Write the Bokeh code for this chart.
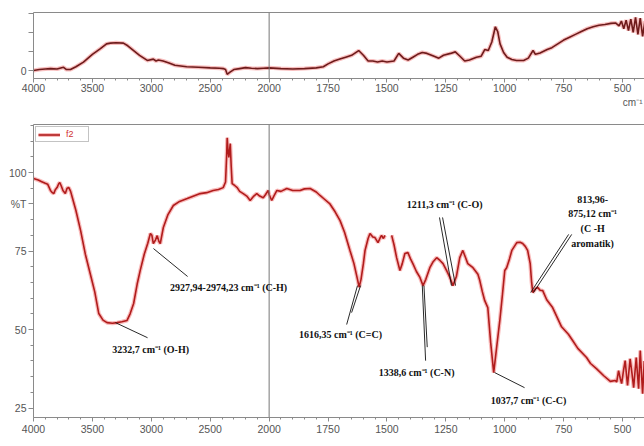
import numpy as np
from bokeh.plotting import figure
from bokeh.models import (Range1d, FixedTicker, LinearAxis, Span, Label,
                          Legend, LegendItem, Title)
from bokeh.layouts import column
from bokeh.embed import file_html
from bokeh.resources import INLINE

# ---------------- data (wavenumber cm-1, signal) ----------------
top_wn = [4000, 3950, 3900, 3856, 3800, 3745, 3720, 3686, 3640, 3576, 3500, 3432,
          3380, 3347, 3300, 3237, 3200, 3150, 3100, 3034, 2983, 2960, 2940, 2900,
          2850, 2800, 2700, 2600, 2500, 2420, 2390, 2370, 2356, 2335, 2300, 2250,
          2200, 2150, 2100, 2050, 2000, 1950, 1900, 1850, 1800, 1770, 1750, 1725,
          1700, 1675, 1650, 1620, 1600, 1580, 1560, 1540, 1520, 1500, 1470, 1450,
          1430, 1410, 1390, 1370, 1350, 1330, 1300, 1280, 1260, 1230, 1210, 1190,
          1170, 1150, 1120, 1100, 1085, 1070, 1055, 1040, 1030, 1020, 1005, 990,
          970, 950, 920, 900, 880, 870, 850, 820, 800, 775, 750, 725, 700, 675,
          650, 625, 600, 575, 550, 530, 515, 505, 495, 485, 475, 465, 455, 445,
          435, 425, 415, 405]
top_val = [0.0, 0.05, 0.08, 0.1, 0.08, 0.17, 0.05, 0.05, 0.2, 0.44, 0.85, 1.15,
           1.4, 1.44, 1.46, 1.44, 1.3, 1.05, 0.8, 0.53, 0.6, 0.5, 0.55, 0.5,
           0.4, 0.28, 0.2, 0.17, 0.14, 0.12, 0.1, 0.05, -0.2, -0.1, 0.05, 0.1,
           0.15, 0.12, 0.1, 0.12, 0.14, 0.1, 0.08, 0.1, 0.14, 0.2, 0.35, 0.5,
           0.6, 0.7, 0.8, 1.05, 0.8, 0.5, 0.5, 0.45, 0.5, 0.45, 0.5, 0.9,
           0.65, 0.55, 0.7, 0.85, 0.95, 0.9, 0.75, 0.65, 0.8, 0.9, 0.98, 0.75,
           0.5, 0.55, 0.7, 0.75, 1.1, 1.05, 1.5, 2.3, 2.05, 1.4, 0.95, 0.7,
           0.58, 0.53, 0.53, 0.65, 1.05, 0.85, 0.92, 1.1, 1.2, 1.4, 1.6, 1.75,
           1.9, 2.05, 2.2, 2.3, 2.38, 2.42, 2.48, 2.5, 2.35, 2.6, 2.2, 2.65,
           2.1, 2.7, 2.0, 2.8, 1.9, 2.75, 1.8, 2.6]

main_wn = [4000, 3960, 3930, 3900, 3880, 3856, 3840, 3828, 3815, 3800, 3785, 3777,
           3765, 3750, 3730, 3715, 3700, 3685, 3670, 3640, 3600, 3560, 3520, 3480,
           3446, 3410, 3376, 3330, 3291, 3250, 3206, 3180, 3150, 3120, 3093, 3060,
           3030, 3008, 2995, 2983, 2965, 2950, 2935, 2924, 2898, 2860, 2813, 2760,
           2695, 2640, 2585, 2530, 2475, 2430, 2390, 2370, 2360, 2356, 2349, 2342,
           2336, 2330, 2322, 2314, 2290, 2271, 2250, 2220, 2190, 2161, 2130, 2105,
           2080, 2050, 2030, 2008, 2000, 1989, 1980, 1967, 1950, 1925, 1900, 1869,
           1850, 1826, 1800, 1784, 1765, 1742, 1720, 1699, 1680, 1657, 1640, 1625,
           1618, 1610, 1600, 1593, 1580, 1572, 1560, 1551, 1538, 1530, 1523, 1515,
           1508, 1494, 1480, 1470, 1459, 1445, 1435, 1424, 1411, 1400, 1390, 1375,
           1360, 1347, 1335, 1318, 1305, 1289, 1275, 1262, 1245, 1233, 1220, 1205,
           1191, 1178, 1167, 1157, 1135, 1114, 1106, 1095, 1085, 1072, 1060, 1047,
           1035, 1021, 1010, 1000, 992, 980, 970, 949, 935, 924, 913, 903, 892,
           886, 881, 870, 860, 850, 839, 822, 797, 760, 730, 712, 690, 653, 636,
           610, 580, 552, 531, 525, 517, 510, 504, 496, 489, 484, 479, 474, 468,
           460, 453, 448, 442, 437, 432, 425, 415, 408]
main_val = [98.1, 97.6, 97.1, 96.6, 96.3, 94.3, 93.6, 93.3, 94.5, 95.2, 96.5, 96.8,
            95.8, 94.3, 93.3, 95.0, 95.2, 94.0, 92.0, 87.9, 81.5, 74.0, 68.0, 62.0,
            55.1, 53.0, 52.2, 52.0, 52.2, 52.5, 52.9, 55.0, 58.3, 64.5, 69.0, 74.0,
            77.5, 80.6, 80.0, 77.4, 78.5, 79.9, 78.0, 77.4, 82.5, 86.5, 89.5, 90.8,
            91.7, 92.5, 93.3, 93.6, 94.3, 94.6, 95.2, 97.0, 106.0, 111.1, 107.0, 104.8,
            107.0, 109.2, 102.0, 96.5, 95.8, 95.2, 94.0, 93.3, 92.5, 91.1, 92.5, 93.3,
            92.5, 92.0, 93.0, 94.3, 93.0, 91.1, 92.5, 94.3, 94.0, 94.9, 94.3, 94.3,
            94.8, 94.9, 93.8, 92.7, 91.5, 90.0, 87.5, 84.7, 81.0, 75.2, 71.0, 66.0,
            63.5, 66.0, 71.0, 75.2, 79.0, 80.6, 79.5, 79.3, 77.7, 79.0, 80.0, 79.0,
            80.0, float("nan"), 80.0, 77.0, 72.9, 68.8, 71.0, 74.2, 74.5, 72.5, 71.0, 68.5,
            66.6, 64.0, 66.0, 69.7, 71.5, 72.9, 72.0, 71.0, 68.5, 66.6, 64.0, 67.0,
            72.9, 75.2, 73.0, 71.0, 69.7, 67.6, 65.6, 62.0, 59.2, 57.0, 46.0, 36.3,
            44.0, 52.9, 61.0, 68.8, 69.7, 72.5, 75.2, 77.7, 77.8, 77.4, 76.5, 75.2, 71.0,
            65.0, 61.8, 63.0, 63.4, 62.5, 62.4, 59.5, 57.0, 51.0, 48.5, 46.5, 44.0, 41.1, 39.2,
            37.5, 35.3, 33.5, 33.8, 33.3, 36.9, 34.5, 32.8, 37.0, 40.1, 36.0, 32.2, 36.0, 40.7,
            36.0, 31.5, 36.0, 41.1, 36.0, 31.2, 43.3, 29.6, 40.0]

tick_wn = [4000, 3500, 3000, 2500, 2000, 1750, 1500, 1250, 1000, 750, 500]
tick_labels = ["4000", "3500", "3000", "2500", "2000", "1750", "1500", "1250",
               "1000", "750", "500"]
main_yticks = [25, 50, 75, 100]
main_ylabels = ["25", "50", "75", "100"]
ylabel_text = "%T"
xunit_text = "cm\u207b\u00b9"
top_yticks = [0, 1, 2, 3]

# annotations: (text, x wavenumber, y value)
ann_texts = [
    ("2927,94-2974,23 cm\u207b\u00b9 (C-H)", 2344, 63.4),
    ("3232,7 cm\u207b\u00b9 (O-H)", 3006, 43.6),
    ("1616,35 cm\u207b\u00b9 (C=C)", 1697, 48.4),
    ("1338,6 cm\u207b\u00b9 (C-N)", 1374, 36.3),
    ("1211,3 cm\u207b\u00b9 (C-O)", 1255, 89.8),
    ("813,96-", 627, 91.4),
    ("875,12 cm\u207b\u00b9", 627, 86.9),
    ("(C -H", 627, 82.2),
    ("aromatik)", 627, 77.4),
    ("1037,7 cm\u207b\u00b9 (C-C)", 899, 27.4),
]
# pointer lines: (wn0, v0, wn1, v1)
pointers = [
    (2982, 75.8, 2692, 66.9),
    (3304, 52.2, 3032, 47.4),
    (1625, 64.0, 1671, 51.6),
    (1612, 64.0, 1650, 55.4),
    (1350, 64.0, 1336, 40.1),
    (1343, 64.0, 1329, 44.4),
    (1226, 64.0, 1277, 85.7),
    (1209, 64.0, 1264, 85.7),
    (890, 61.8, 729, 80.3),
    (878, 61.8, 716, 80.3),
    (1043, 36.3, 916, 31.5),
]


def xu(wn):
    """Instrument axis: 4000-2000 cm-1 shown at half the scale of 2000-400."""
    w = np.asarray(wn, dtype=float)
    return np.where(w > 2000, 2000 + (w - 2000) / 2.0, w)


AX = "#8a8a8a"
TXT = "#555555"
SANS = "Liberation Sans"
SERIF = "Liberation Serif"

xr = Range1d(float(xu(4000)), 407)
tick_u = [int(v) for v in xu(tick_wn)]
minor_u = list(np.arange(3000, 400, -50))


def style_xaxis(ax, standoff):
    ax.ticker = FixedTicker(ticks=tick_u, minor_ticks=minor_u)
    ax.major_label_overrides = {u: l for u, l in zip(tick_u, tick_labels)}
    ax.axis_line_color = AX
    ax.major_tick_line_color = AX
    ax.minor_tick_line_color = AX
    ax.major_tick_out = 4
    ax.major_tick_in = 0
    ax.minor_tick_out = 2
    ax.minor_tick_in = 0
    ax.major_label_standoff = standoff
    ax.major_label_text_font = SANS
    ax.major_label_text_font_size = "10.5px"
    ax.major_label_text_color = TXT


def style_yaxis(ax, ticks, minor, overrides):
    ax.ticker = FixedTicker(ticks=ticks, minor_ticks=minor)
    if overrides:
        ax.major_label_overrides = overrides
    ax.axis_line_color = AX
    ax.major_tick_line_color = AX
    ax.minor_tick_line_color = AX
    ax.major_tick_out = 5
    ax.major_tick_in = 0
    ax.minor_tick_out = 3
    ax.minor_tick_in = 0
    ax.major_label_standoff = 2
    ax.major_label_text_font = SANS
    ax.major_label_text_font_size = "10.5px"
    ax.major_label_text_color = TXT


def top_border(p):
    ax = LinearAxis(ticker=FixedTicker(ticks=[]), axis_line_color=AX,
                    major_tick_out=0, major_tick_in=0, minor_tick_out=0,
                    minor_tick_in=0, major_label_standoff=0,
                    major_label_text_font_size="0px")
    p.add_layout(ax, "above")


# ---------------- top panel ----------------
p1 = figure(width=644, height=116, x_range=xr, y_range=Range1d(-0.42, 3.05),
            output_backend="svg", toolbar_location=None,
            min_border_left=33, min_border_right=0, min_border_top=12,
            min_border_bottom=38)
p1.grid.visible = False
p1.outline_line_color = None
style_xaxis(p1.xaxis[0], 1)
style_yaxis(p1.yaxis[0], top_yticks, [], {1: "", 2: "", 3: ""})
top_border(p1)
p1.add_layout(Span(location=2000, dimension="height", line_color="#777777",
                   line_width=1))
tu = xu(top_wn)
p1.line(tu, top_val, line_color="#f07070", line_width=4, line_alpha=0.45)
p1.line(tu, top_val, line_color="#6e1b1b", line_width=1.6)
p1.add_layout(Title(text=xunit_text, align="right", text_font=SANS,
                    text_font_size="10px", text_font_style="normal",
                    text_color=TXT, standoff=0, offset=2), "below")

# ---------------- main panel ----------------
p2 = figure(width=644, height=324, x_range=xr, y_range=Range1d(22.0, 115.3),
            output_backend="svg", toolbar_location=None,
            min_border_left=33, min_border_right=0, min_border_top=8,
            min_border_bottom=23)
p2.grid.visible = False
p2.outline_line_color = None
style_xaxis(p2.xaxis[0], 3)
# the "%T" caption sits on the axis at the 90 % tick, as in the instrument plot
yl_over = {t: l for t, l in zip(main_yticks, main_ylabels)}
yl_over[90] = ylabel_text
style_yaxis(p2.yaxis[0], main_yticks + [90], list(range(25, 116, 5)), yl_over)
top_border(p2)
p2.add_layout(Span(location=2000, dimension="height", line_color="#777777",
                   line_width=1))
mu = xu(main_wn)
halo = p2.line(mu, main_val, line_color="#ee3b3b", line_width=4, line_alpha=0.35)
core = p2.line(mu, main_val, line_color="#b01c1c", line_width=1.6)

p2.segment(x0=xu([q[0] for q in pointers]), y0=[q[1] for q in pointers],
           x1=xu([q[2] for q in pointers]), y1=[q[3] for q in pointers],
           line_color="#111111", line_width=0.9)

for txt, wn, v in ann_texts:
    p2.add_layout(Label(x=float(xu(wn)), y=v, text=txt, text_font=SERIF,
                        text_font_style="bold", text_font_size="10px",
                        text_color="#111111", text_align="center",
                        text_baseline="middle"))

legend = Legend(items=[LegendItem(label="f2", renderers=[halo, core])],
                location="top_left", margin=2, padding=2, spacing=0,
                glyph_width=22, glyph_height=9, label_standoff=6,
                label_height=9, label_text_font=SANS,
                label_text_font_size="9px", label_text_color="#d03030",
                border_line_color="#888888", border_line_width=1,
                background_fill_color="white", background_fill_alpha=1)
p2.add_layout(legend)

layout = column(p1, p2, spacing=0)
open("out.html", "w").write(file_html(layout, INLINE))
